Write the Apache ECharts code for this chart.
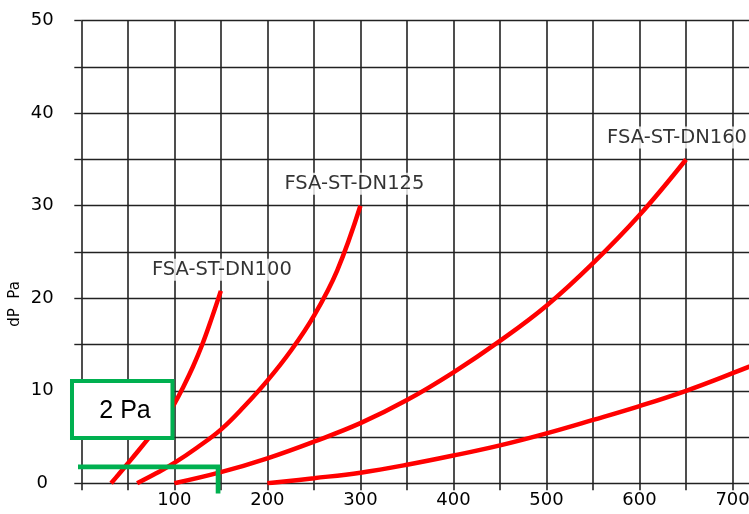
<!DOCTYPE html>
<html>
<head>
<meta charset="utf-8">
<script src="https://cdn.jsdelivr.net/npm/echarts@6/dist/echarts.min.js"></script>
<style>
html,body{margin:0;padding:0;background:#fff;}
#chart{width:749px;height:514px;}
</style>
</head>
<body>
<div id="chart"></div>
<script>
// ---- data ----
const xTicks = [100, 200, 300, 400, 500, 600, 700];
const yTicks = [0, 10, 20, 30, 40, 50];

const dn100X = [32, 40, 50, 60, 75, 90, 100, 110, 120, 130, 140, 150];
const dn100Y = [0, 0.95, 2.15, 3.35, 5.2, 7.1, 8.6, 10.5, 12.6, 15.0, 17.8, 20.8];

const dn125X = [60, 80, 100, 125, 150, 175, 200, 225, 250, 275, 300];
const dn125Y = [0, 1.05, 2.2, 3.9, 5.8, 8.3, 11.1, 14.3, 18.1, 23.0, 30.0];

const dn160X = [100, 150, 200, 250, 300, 350, 400, 450, 500, 550, 600, 650];
const dn160Y = [0, 1.2, 2.7, 4.5, 6.5, 9.0, 12.0, 15.4, 19.2, 23.8, 29.0, 35.0];

const dn200X = [200, 250, 300, 350, 400, 450, 500, 550, 600, 650, 700, 750];
const dn200Y = [0, 0.55, 1.15, 2.0, 3.0, 4.1, 5.4, 6.85, 8.35, 10.0, 11.9, 13.9];

const curveNames = ['FSA-ST-DN100', 'FSA-ST-DN125', 'FSA-ST-DN160', ''];

// annotation: 2 Pa box and marker line (data coordinates)
const boxX = [-10, 98];
const boxY = [4.9, 11.05];
const boxTextPos = [47, 7.8];
const boxText = '2 Pa';
const markLineX = [-44.5, 147, 147];
const markLineY = [1.78, 1.78, -1.1];

const yAxisTitle = 'dP  Pa';

// ---- chart ----
const pairs = (xs, ys) => xs.map((x, i) => [x, ys[i]]);
const curves = [pairs(dn100X, dn100Y), pairs(dn125X, dn125Y), pairs(dn160X, dn160Y), pairs(dn200X, dn200Y)];
const labelOffsets = [[1, -21], [-6, -22], [-9, -22]];

const GREEN = '#00b050';
const GRID = '#222';
const FONT = 'DejaVu Sans';

const chart = echarts.init(document.getElementById('chart'), null, {renderer: 'canvas'});

const series = [];
curves.forEach((c, i) => {
  series.push({
    type: 'line', data: c, smooth: 0.4, symbol: 'none', z: 3,
    lineStyle: {color: '#ff0000', width: 4.5, cap: 'butt'},
    silent: true, animation: false
  });
});
curves.slice(0, 3).forEach((c, i) => {
  series.push({
    type: 'scatter', data: [c[c.length - 1]], symbolSize: 0, z: 6,
    label: {
      show: true, position: 'inside', offset: labelOffsets[i],
      formatter: curveNames[i], color: '#000', fontFamily: FONT, fontSize: 19.5,
      backgroundColor: '#fff', padding: [1, 1]
    },
    silent: true, animation: false
  });
});
series.push({
  type: 'custom', clip: false, z: 8, animation: false, silent: true,
  data: [[boxX[0], boxY[1], boxX[1], boxY[0], boxTextPos[0], boxTextPos[1]]],
  encode: {x: [0, 2], y: [1, 3]},
  renderItem: function (params, api) {
    const p1 = api.coord([api.value(0), api.value(1)]);
    const p2 = api.coord([api.value(2), api.value(3)]);
    const pt = api.coord([api.value(4), api.value(5)]);
    return {
      type: 'group',
      children: [
        {type: 'rect', shape: {x: p1[0], y: p1[1], width: p2[0] - p1[0], height: p2[1] - p1[1]},
         style: {fill: '#fff', stroke: GREEN, lineWidth: 4}},
        {type: 'text', x: pt[0], y: pt[1],
         style: {text: boxText, fill: '#000', font: '25px "Liberation Sans"', align: 'center', verticalAlign: 'middle'}}
      ]
    };
  }
});
series.push({
  type: 'line', data: pairs(markLineX, markLineY), clip: false, symbol: 'none', z: 9,
  lineStyle: {color: GREEN, width: 4.7, cap: 'butt', join: 'miter'},
  silent: true, animation: false
});

chart.setOption({
  animation: false,
  backgroundColor: '#fff',
  grid: {left: 81.3, top: 20.7, width: 697.8, height: 462.6, containLabel: false, outerBoundsMode: 'none'},
  xAxis: {
    type: 'value', min: 0, max: 750, interval: 50,
    axisLine: {show: false},
    axisTick: {show: true, inside: false, length: 7, lineStyle: {color: GRID, width: 1.6}},
    splitLine: {show: true, lineStyle: {color: GRID, width: 1.6}},
    axisLabel: {
      margin: 8, color: '#000', fontFamily: FONT, fontSize: 18,
      formatter: v => (xTicks.indexOf(v) >= 0 ? String(v) : '')
    }
  },
  yAxis: {
    type: 'value', min: 0, max: 50, interval: 5,
    axisLine: {show: false},
    axisTick: {show: true, inside: false, length: 7, lineStyle: {color: GRID, width: 1.4}},
    splitLine: {show: true, lineStyle: {color: GRID, width: 1.4}},
    axisLabel: {
      margin: 39, align: 'center', color: '#000', fontFamily: FONT, fontSize: 18,
      padding: [0, 0, 5, 0],
      formatter: v => (yTicks.indexOf(v) >= 0 ? String(v) : '')
    }
  },
  graphic: [{
    type: 'text', x: 15, y: 304, rotation: Math.PI / 2, silent: true,
    style: {text: yAxisTitle, fill: '#000', font: '15px "DejaVu Sans"', align: 'center', verticalAlign: 'middle'}
  }],
  series: series
});
</script>
</body>
</html>
